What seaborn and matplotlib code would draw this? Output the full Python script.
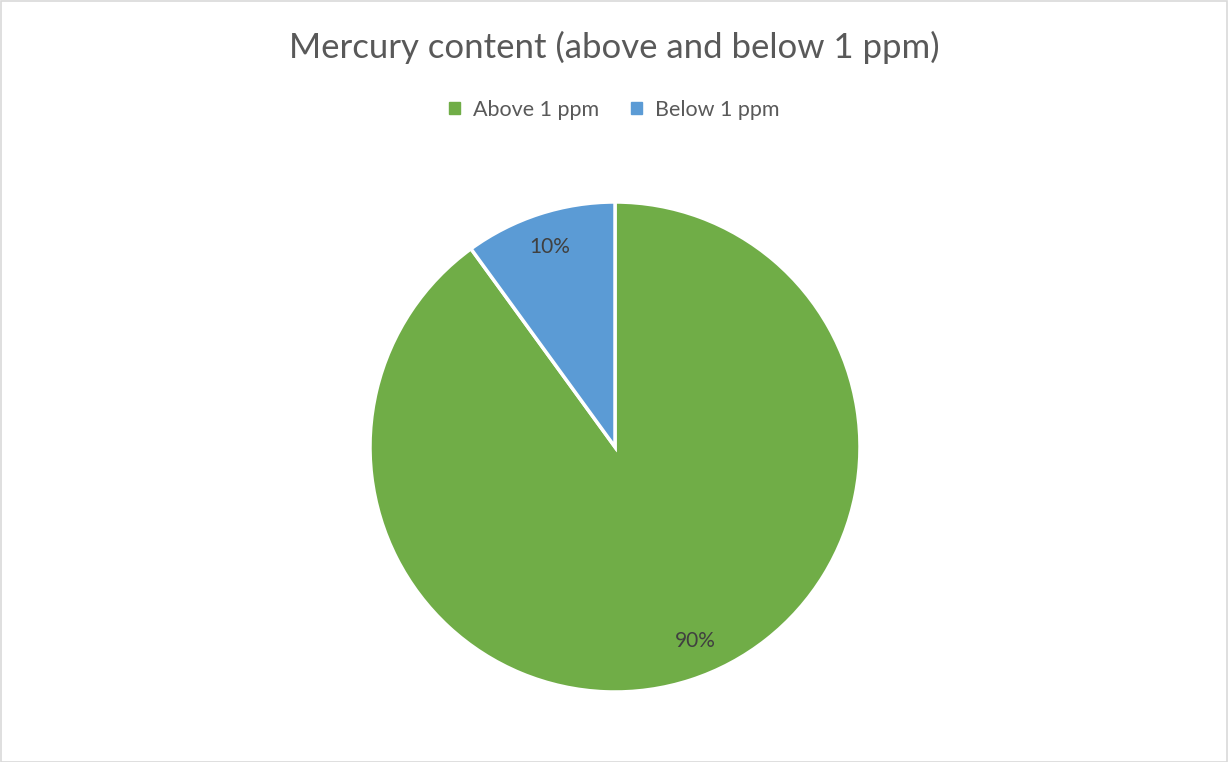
import matplotlib
matplotlib.use("Agg")
import matplotlib.pyplot as plt
import seaborn as sns
import numpy as np
from matplotlib.patches import Rectangle, Patch

categories = ["Above 1 ppm", "Below 1 ppm"]
values = [90, 10]
colors = ["#70AD47", "#5B9BD5"]
title = "Mercury content (above and below 1 ppm)"

sns.set_theme(style="white")
plt.rcParams['font.family'] = ['Lato', 'DejaVu Sans']
text_color = "#595959"

W, H = 1228, 762
fig = plt.figure(figsize=(W / 100, H / 100), dpi=100)
fig.patch.set_facecolor("white")

cx, cy, r = 615, 447, 245
ax = fig.add_axes([(cx - r) / W, (H - cy - r) / H, 2 * r / W, 2 * r / H])
wedges, texts, autotexts = ax.pie(
    values, colors=colors, startangle=90, counterclock=False,
    autopct=lambda p: f"{p:.0f}%", pctdistance=0.86,
    wedgeprops=dict(edgecolor="white", linewidth=2.5),
    textprops=dict(color="#404040", fontsize=15),
)
# Excel-style best-fit nudge of the large slice label
ang = np.deg2rad(-67.5)
autotexts[0].set_position((0.855 * np.cos(ang), 0.855 * np.sin(ang)))
ax.set_xlim(-1, 1)
ax.set_ylim(-1, 1)
ax.set_aspect("equal")
ax.axis("off")

fig.text(0.5, 1 - 47 / H, title, ha="center", va="center", fontsize=25, color=text_color)

handles = [Patch(facecolor=c, edgecolor=c) for c in colors]
leg = fig.legend(handles, categories, loc="center", bbox_to_anchor=(0.5, 1 - 110 / H),
                 ncol=2, frameon=False, fontsize=15.5, handlelength=0.5, handleheight=0.5,
                 handletextpad=0.6, columnspacing=1.5)
for t in leg.get_texts():
    t.set_color(text_color)

fig.add_artist(Rectangle((0.5 / W, 0.5 / H), 1 - 1.5 / W, 1 - 1.5 / H, transform=fig.transFigure,
                         fill=False, edgecolor="#D9D9D9", linewidth=1.2))

fig.savefig("out.png", dpi=100, facecolor="white")
